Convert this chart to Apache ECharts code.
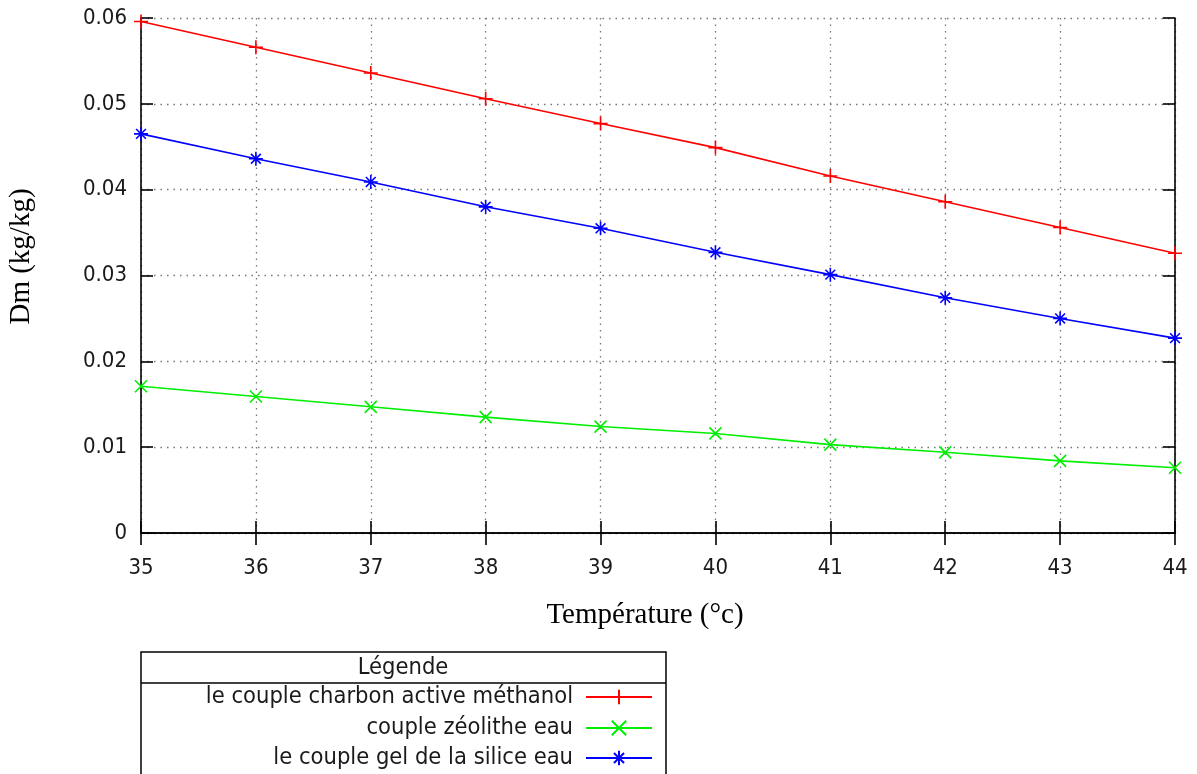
<!DOCTYPE html>
<html><head><meta charset="utf-8">
<script src="https://cdn.jsdelivr.net/npm/echarts@6/dist/echarts.min.js"></script>
<style>html,body{margin:0;padding:0;background:#fff}#c{width:1197px;height:774px}</style>
</head><body><div id="c"></div>
<script>
const temperatures = [35, 36, 37, 38, 39, 40, 41, 42, 43, 44];
const charbonMethanol = [0.0596, 0.0566, 0.0536, 0.0506, 0.0477, 0.0449, 0.0416, 0.0386, 0.0356, 0.0326];
const zeolitheEau = [0.0171, 0.0159, 0.0147, 0.0135, 0.0124, 0.0116, 0.0103, 0.0094, 0.0084, 0.0076];
const silicaEau = [0.0465, 0.0436, 0.0409, 0.0380, 0.0355, 0.0327, 0.0301, 0.0274, 0.0250, 0.0227];
const yTicks = ['0', '0.01', '0.02', '0.03', '0.04', '0.05', '0.06'];
const names = ['le couple charbon active méthanol', 'couple zéolithe eau', 'le couple gel de la silice eau'];

const PLUS = 'path://M0,5L10,5M5,0L5,10';
const CROSS = 'path://M0,0L10,10M10,0L0,10';
const STAR = 'path://M0,5L10,5M5,0L5,10M1.5,1.5L8.5,8.5M8.5,1.5L1.5,8.5';

function pairs(vals){ return temperatures.map((t,i)=>[t, vals[i]]); }
function mk(name, vals, color, sym, size){
  return {
    name, type:'line', data: pairs(vals), symbol: sym, symbolSize: size,
    showSymbol: true, clip: false, xAxisIndex:0, yAxisIndex:0,
    lineStyle:{color, width:1.6},
    itemStyle:{color, borderColor: color, borderWidth:1.6},
    emphasis:{disabled:true}, animation:false
  };
}
const SANS = 'DejaVu Sans Condensed';
const tickFont = {fontFamily:SANS, fontSize:22, color:'#1a1a1a'};
const gridLine = {show:true, lineStyle:{color:'#777', type:[1.5,5], width:1.3}};
const axisLineS = {show:true, lineStyle:{color:'#000', width:1.6}};
const tickS = {show:true, inside:true, length:12, lineStyle:{color:'#000', width:1.6}};

const legendBase = (name, top) => ({
  data:[name], orient:'vertical', align:'right', right: 544, top, padding:0,
  itemWidth: 66, itemHeight: 18, itemGap: 0,
  textStyle:{fontFamily:SANS, fontSize:23.5, lineHeight:24, color:'#1a1a1a', padding:[0,8,0,0]},
  selectedMode:false
});

const chart = echarts.init(document.getElementById('c'), null, {renderer:'canvas'});
chart.setOption({
  animation:false,
  backgroundColor:'#fff',
  grid:{left:141, right:22, top:18, bottom:241, outerBoundsMode:'none', containLabel:false},
  xAxis:[
    {type:'value', min:35, max:44, interval:1, position:'bottom',
     axisLine:axisLineS, axisTick:tickS, splitLine:gridLine,
     axisLabel:{...tickFont, margin:24},
     name:'Température (°c)', nameLocation:'middle', nameGap:68,
     nameTextStyle:{fontFamily:'Liberation Serif', fontSize:29, color:'#000', padding:[0,26,0,0]}},
    {type:'value', min:35, max:44, interval:1, position:'top',
     axisLine:axisLineS, axisTick:tickS, splitLine:{show:false}, axisLabel:{show:false}}
  ],
  yAxis:[
    {type:'value', min:0, max:0.06, interval:0.01, position:'left',
     axisLine:axisLineS, axisTick:tickS, splitLine:gridLine,
     axisLabel:{...tickFont, margin:14, formatter:(v)=> yTicks[Math.round(v*100)]},
     name:'Dm (kg/kg)', nameLocation:'middle', nameGap:105, nameRotate:90,
     nameTextStyle:{fontFamily:'Liberation Serif', fontSize:29, color:'#000', padding:[0,0,0,38]}},
    {type:'value', min:0, max:0.06, interval:0.01, position:'right',
     axisLine:axisLineS, axisTick:tickS, splitLine:{show:false}, axisLabel:{show:false}}
  ],
  legend:[
    legendBase(names[0], 685),
    legendBase(names[1], 716),
    legendBase(names[2], 746)
  ],
  graphic:[
    {type:'rect', shape:{x:141, y:652, width:525, height:140}, style:{fill:'none', stroke:'#000', lineWidth:1.5}, silent:true},
    {type:'line', shape:{x1:141, y1:683, x2:666, y2:683}, style:{stroke:'#000', lineWidth:1.5}, silent:true},
    {type:'text', x:403, y:668, style:{text:'Légende', fontFamily:SANS, fontSize:23.5, fill:'#1a1a1a', align:'center', verticalAlign:'middle'}, silent:true}
  ],
  series:[
    mk(names[0], charbonMethanol, '#ff0000', PLUS, 14),
    mk(names[1], zeolitheEau, '#00ee00', CROSS, 12),
    mk(names[2], silicaEau, '#0000ff', STAR, 14)
  ]
});
</script></body></html>
